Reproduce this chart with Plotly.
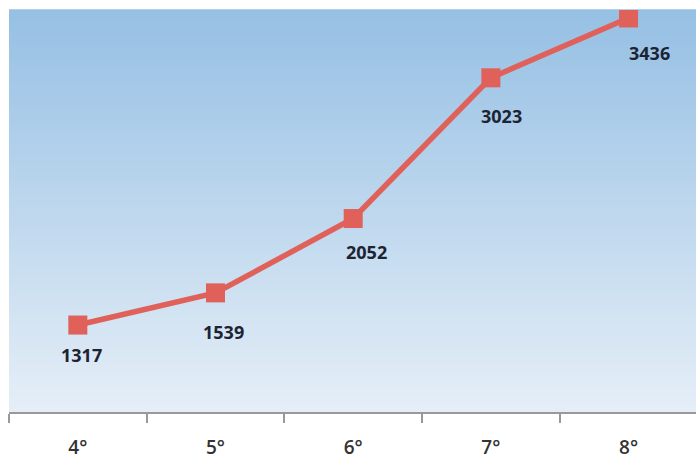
import plotly.graph_objects as go

# Data
grades = ["4°", "5°", "6°", "7°", "8°"]
values = [1317, 1539, 2052, 3023, 3436]

# Label nudges (pixels) relative to each marker
label_dx = [4, 8, 13, 11, 21]
label_dy = [-30, -39, -33, -38, -35]

line_color = "#e0605a"

fig = go.Figure()

fig.add_trace(go.Scatter(
    x=grades, y=values, mode="lines+markers",
    line=dict(color=line_color, width=5.5),
    marker=dict(symbol="square", size=19, color=line_color),
    hoverinfo="x+y", showlegend=False,
))

for g, v, dx, dy in zip(grades, values, label_dx, label_dy):
    fig.add_annotation(
        x=g, y=v, text=f"<b>{v}</b>", showarrow=False,
        xshift=dx, yshift=dy,
        font=dict(family="Open Sans", size=18, color="#1c2433"),
    )

# Vertical gradient background for the plotting area
top = (0x96, 0xc0, 0xe4)
bottom = (0xe5, 0xee, 0xf7)
n = 80
for i in range(n):
    t = i / (n - 1)
    c = tuple(round(top[k] + (bottom[k] - top[k]) * t) for k in range(3))
    fig.add_shape(
        type="rect", xref="paper", yref="paper",
        x0=0, x1=1, y0=1 - (i + 1) / n, y1=1 - i / n + 0.002,
        fillcolor="rgb(%d,%d,%d)" % c, line=dict(width=0), layer="below",
    )

fig.update_layout(
    width=696, height=459,
    margin=dict(l=9, r=0, t=10, b=47),
    paper_bgcolor="white", plot_bgcolor="rgba(0,0,0,0)",
    xaxis=dict(
        type="category", range=[-0.5, 4.49],
        tickson="boundaries", ticks="outside", ticklen=9, tickwidth=1.5,
        tickcolor="#999999", showline=True, linecolor="#999999", linewidth=2,
        showgrid=False, zeroline=False,
        tickfont=dict(family="Open Sans", size=19, color="#333333", weight=600),
        ticklabelstandoff=17,
    ),
    yaxis=dict(
        range=[717, 3491], visible=False, showgrid=False, zeroline=False,
    ),
)

fig.write_html("out.html")
